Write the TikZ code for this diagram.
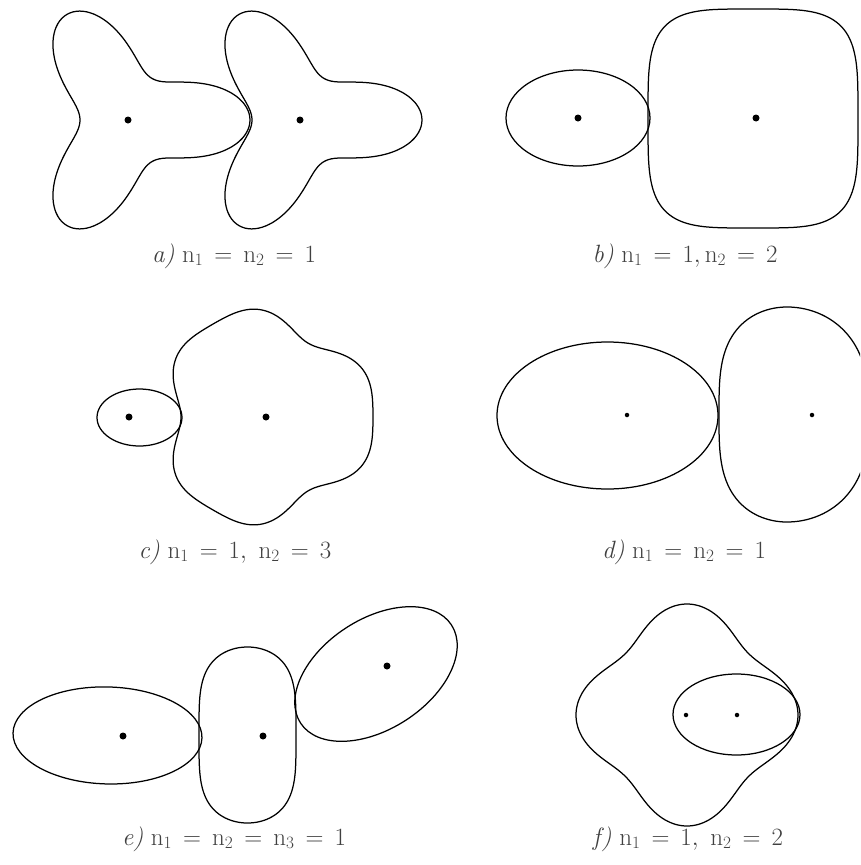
\documentclass[tikz,border=0pt]{standalone}
\usepackage{fontspec}
\usepackage{tikz}
\usepackage{xcolor}
\usetikzlibrary{calc}
\definecolor{CaptionText}{HTML}{404040}
\tikzstyle{ContourLine} =[draw,line width=1.25pt,line join=round]
\tikzstyle{CentreDot} =[circle,fill,inner sep=0pt,minimum size=7pt]
\tikzstyle{SmallDot} =[circle,fill,inner sep=0pt,minimum size=4.5pt]
\tikzstyle{CaptionNode} =[anchor=base,text=CaptionText,font={\fontsize{25}{29}\selectfont\thickmuskip=8mu}]
\newcommand{\SuperOval}[3]{plot[domain=0.5:357.5,samples=120,smooth cycle] (\x:{superr(\x,#1,#2,#3)})}
\newcommand{\FlatOval}[5]{plot[domain=0.5:357.5,samples=120,smooth cycle] ({flatx(\x,#1,#2)},{flaty(\x,#3,#4,#5)})}

\begin{document}
\begin{tikzpicture}[x=1pt,y=-1pt,declare function={superr(\ang,\ra,\rb,\pe)=\ra/pow(pow(abs(cos(\ang)),\pe)+pow(\ra/\rb*abs(sin(\ang)),\pe),1/\pe);
  flatx(\ang,\al,\ar)=cos(\ang)<0 ? \al*cos(\ang) : \ar*cos(\ang);
  flaty(\ang,\bb,\ml,\mr)=(sin(\ang)<0 ? -1 : 1)*\bb*pow(abs(sin(\ang)),(cos(\ang)<0 ? \ml : \mr));}]
\useasboundingbox (0,0) rectangle (860,865);
\clip (0,0) rectangle (860,865);

\coordinate (ShapeA1) at (128,120);
\coordinate (ShapeA2) at (300,120);
\draw[ContourLine,shift={(ShapeA1)}] plot[domain=0:357,samples=120,smooth cycle] (\x:{80+37*cos(3*\x)+5*cos(6*\x)});
\draw[ContourLine,shift={(ShapeA2)}] plot[domain=0:357,samples=120,smooth cycle] (\x:{80+37*cos(3*\x)+5*cos(6*\x)});
\node[CentreDot] (DotA1) at (ShapeA1) {};
\node[CentreDot] (DotA2) at (ShapeA2) {};
\node[CaptionNode] (CaptionA) at (234,262) {\textit{a)} $\mathrm{n}_1 = \mathrm{n}_2 = 1$};

\coordinate (ShapeB1) at (578,118);
\coordinate (ShapeB2) at (753,118.5);
\draw[ContourLine] (ShapeB1) ellipse [x radius=72,y radius=48];
\draw[ContourLine,shift={(ShapeB2)}] \SuperOval{105}{109.5}{4};
\node[CentreDot] (DotB1) at (ShapeB1) {};
\node[CentreDot] (DotB2) at (756,118) {};
\node[CaptionNode] (CaptionB) at (685,262) {\textit{b)} $\mathrm{n}_1 = 1, \mathrm{n}_2 = 2$};

\coordinate (ShapeC1) at (139.5,417.5);
\coordinate (ShapeC2) at (266,417);
\draw[ContourLine] (ShapeC1) ellipse [x radius=42.5,y radius=28.5];
\draw[ContourLine,shift={(ShapeC2)}] plot[domain=0:357,samples=120,smooth cycle] (\x:{101+11*cos(3*\x)-5*cos(6*\x)});
\node[CentreDot] (DotC1) at (129,417) {};
\node[CentreDot] (DotC2) at (ShapeC2) {};
\node[CaptionNode] (CaptionC) at (235,558) {\textit{c)} $\mathrm{n}_1 = 1,\ \mathrm{n}_2 = 3$};

\coordinate (ShapeD1) at (607.5,415.5);
\coordinate (ShapeD2) at (787,414.5);
\draw[ContourLine] (ShapeD1) ellipse [x radius=110.5,y radius=73.5];
\draw[ContourLine,shift={(ShapeD2)}] \FlatOval{68}{82}{107.5}{0.6}{0.75};
\node[SmallDot] (DotD1) at (627,415) {};
\node[SmallDot] (DotD2) at (812,415) {};
\node[CaptionNode] (CaptionD) at (684,558) {\textit{d)} $\mathrm{n}_1 = \mathrm{n}_2 = 1$};

\coordinate (ShapeE1) at (107.5,735.5);
\coordinate (ShapeE2) at (247.5,735);
\coordinate (ShapeE3) at (376,674);
\draw[ContourLine,rotate around={-1.5:(ShapeE1)}] (ShapeE1) ellipse [x radius=94.5,y radius=48.5];
\draw[ContourLine,shift={(ShapeE2)}] \FlatOval{48.5}{48.5}{88}{0.5}{0.5};
\draw[ContourLine,rotate around={33:(ShapeE3)}] (ShapeE3) ellipse [x radius=90,y radius=55];
\node[CentreDot] (DotE1) at (123,736) {};
\node[CentreDot] (DotE2) at (263,736) {};
\node[CentreDot] (DotE3) at (387,666) {};
\node[CaptionNode] (CaptionE) at (234,845) {\textit{e)} $\mathrm{n}_1 = \mathrm{n}_2 = \mathrm{n}_3 = 1$};

\coordinate (ShapeF1) at (687,715);
\coordinate (ShapeF2) at (736.5,714.5);
\draw[ContourLine,shift={(ShapeF1)}] plot[domain=0:357,samples=120,smooth cycle] (\x:{99+12*cos(4*\x)});
\draw[ContourLine] (ShapeF2) ellipse [x radius=63.5,y radius=40.5];
\node[SmallDot] (DotF1) at (686,715) {};
\node[SmallDot] (DotF2) at (737,715) {};
\node[CaptionNode] (CaptionF) at (688,845) {\textit{f)} $\mathrm{n}_1 = 1,\ \mathrm{n}_2 = 2$};
\end{tikzpicture}
\end{document}
